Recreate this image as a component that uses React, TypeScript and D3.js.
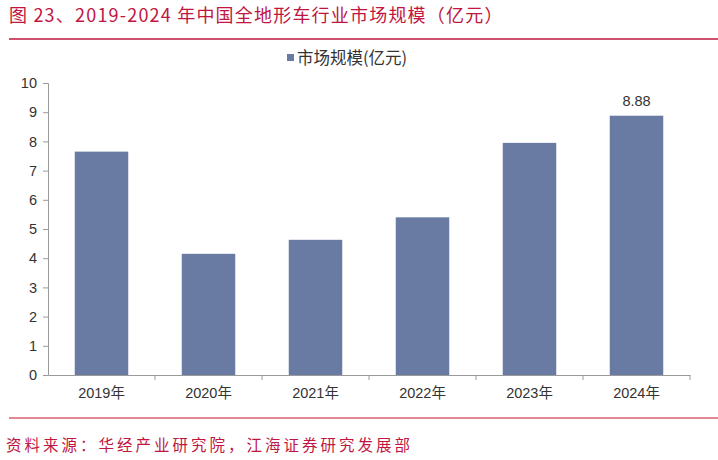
import * as d3 from "d3"
import React, { useEffect, useRef } from "react"

const years = ["2019年", "2020年", "2021年", "2022年", "2023年", "2024年"]
const marketSize = [7.65, 4.15, 4.63, 5.4, 7.95, 8.88]
const yTicks = [0, 1, 2, 3, 4, 5, 6, 7, 8, 9, 10]
const labeledYear = "2024年"

const title = "图 23、2019-2024 年中国全地形车行业市场规模（亿元）"
const legendLabel = "市场规模(亿元)"
const source = "资料来源：华经产业研究院，江海证券研究发展部"

const App = () => {
    const svgRef = useRef<SVGSVGElement>(null)

    useEffect(() => {
        document.body.style.margin = "0"

        const width = 718
        const height = 460
        const margin = { top: 83, right: 28, bottom: 85, left: 48 }
        const red = "#c0163f"
        const barColor = "#6a7ba3"
        const axisColor = "#9a9a9a"
        const font = "'Liberation Sans', Arial, 'Noto Sans CJK SC', sans-serif"

        const svg = d3.select(svgRef.current)
            .attr("width", width)
            .attr("height", height)
            .style("display", "block")
            .style("background", "#fff")

        svg.selectAll("*").remove()

        // Title and rules
        svg.append("text")
            .attr("x", 9)
            .attr("y", 22)
            .attr("fill", red)
            .style("font-family", "'Noto Sans CJK SC', sans-serif")
            .style("font-size", "18px")
            .style("letter-spacing", "1.2px")
            .text(title)

        svg.append("line")
            .attr("x1", 9).attr("x2", width)
            .attr("y1", 39).attr("y2", 39)
            .attr("stroke", red).attr("stroke-width", 1.5)

        svg.append("line")
            .attr("x1", 9).attr("x2", width)
            .attr("y1", 418).attr("y2", 418)
            .attr("stroke", "#d86070").attr("stroke-width", 1.5)

        svg.append("text")
            .attr("x", 6)
            .attr("y", 451)
            .attr("fill", red)
            .style("font-family", "'Noto Sans CJK SC', sans-serif")
            .style("font-size", "15.5px")
            .style("letter-spacing", "3px")
            .text(source)

        // Scales
        const x = d3.scaleBand()
            .domain(years)
            .range([margin.left, width - margin.right])
            .paddingInner(0.5)
            .paddingOuter(0.25)

        const y = d3.scaleLinear()
            .domain([0, 10])
            .range([375, margin.top])

        // Bars
        svg.append("g")
            .selectAll("rect")
            .data(years)
            .join("rect")
            .attr("x", (d) => x(d)!)
            .attr("y", (d, i) => y(marketSize[i]))
            .attr("width", x.bandwidth())
            .attr("height", (d, i) => y(0) - y(marketSize[i]))
            .attr("fill", barColor)

        // Y axis
        const yAxis = svg.append("g")
            .attr("transform", `translate(${margin.left},0)`)
            .call(d3.axisLeft(y).tickValues(yTicks).tickSize(5).tickPadding(6))
        yAxis.select(".domain").attr("stroke", axisColor)
        yAxis.selectAll(".tick line").attr("stroke", axisColor)
        yAxis.selectAll(".tick text")
            .attr("fill", "#333")
            .style("font-family", font)
            .style("font-size", "14.5px")

        // X axis with boundary ticks
        const xAxis = svg.append("g")
            .attr("transform", `translate(0,${y(0)})`)
            .call(d3.axisBottom(x).tickSize(0).tickPadding(13))
        xAxis.select(".domain").attr("stroke", axisColor)
        xAxis.selectAll(".tick text")
            .attr("fill", "#333")
            .style("font-family", font)
            .style("font-size", "14.5px")

        const step = x.step()
        xAxis.selectAll(".boundary")
            .data(years)
            .join("line")
            .attr("class", "boundary")
            .attr("x1", (d) => x(d)! + x.bandwidth() / 2 + step / 2)
            .attr("x2", (d) => x(d)! + x.bandwidth() / 2 + step / 2)
            .attr("y1", 0).attr("y2", 5)
            .attr("stroke", axisColor)

        // Value label
        const li = years.indexOf(labeledYear)
        svg.append("text")
            .attr("x", x(labeledYear)! + x.bandwidth() / 2)
            .attr("y", y(marketSize[li]) - 10)
            .attr("text-anchor", "middle")
            .attr("fill", "#333")
            .style("font-family", font)
            .style("font-size", "14.5px")
            .text(d3.format(".2f")(marketSize[li]))

        // Legend
        const legend = svg.append("g").attr("transform", "translate(287,58)")
        legend.append("rect")
            .attr("x", 0).attr("y", -4)
            .attr("width", 7).attr("height", 7)
            .attr("fill", barColor)
        legend.append("text")
            .attr("x", 10).attr("y", 0)
            .attr("dy", "0.35em")
            .attr("fill", "#333")
            .style("font-family", "'Noto Sans CJK SC', sans-serif")
            .style("font-size", "16.5px")
            .text(legendLabel)
    }, [])

    return <svg ref={svgRef}></svg>
}

export default App
